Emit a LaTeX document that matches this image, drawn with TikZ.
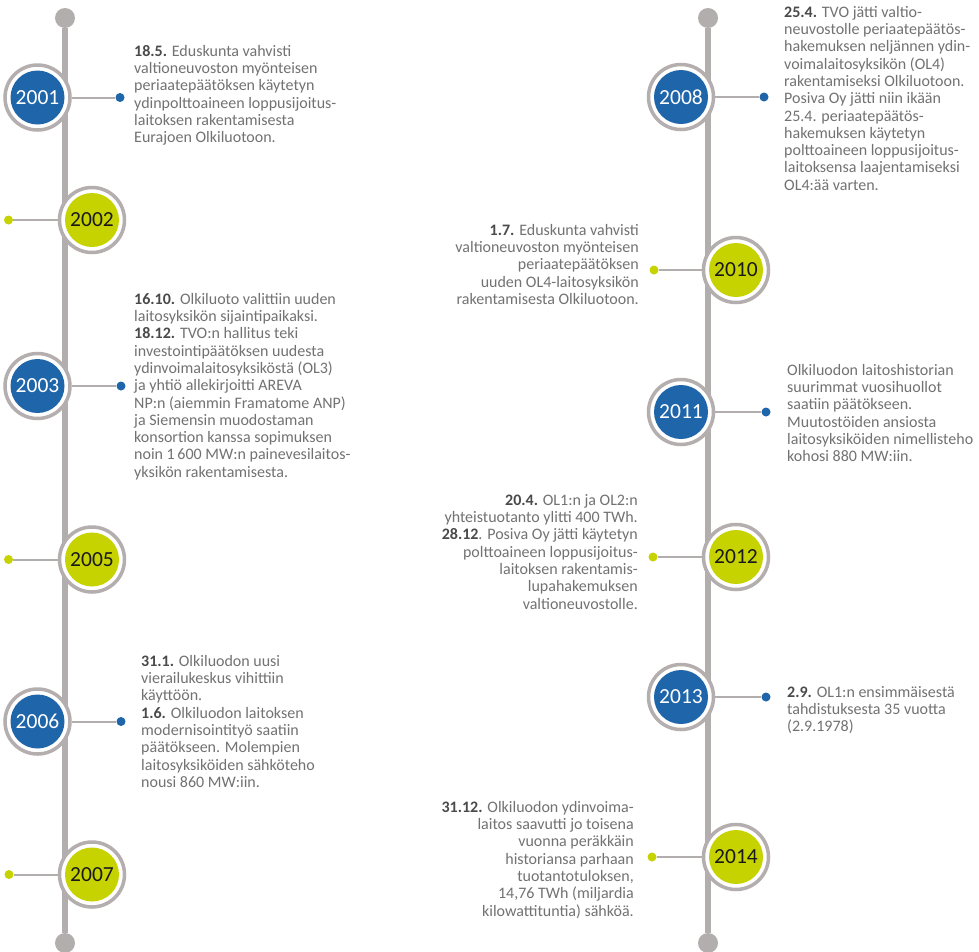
\documentclass[tikz,border=0pt]{standalone}
\usepackage{fontspec}
\setmainfont{Carlito}
\definecolor{tlblue}{HTML}{1F65AA}
\definecolor{tlgreen}{HTML}{C7D300}
\definecolor{ringgray}{HTML}{B4AEAE}
\definecolor{spinegray}{HTML}{B3AEAE}
\definecolor{txtgray}{HTML}{727272}
\definecolor{dategray}{HTML}{4A4A4A}
\newcommand{\dte}[1]{\textcolor{dategray}{\textbf{#1}}}
\newcommand{\fst}{\rule{0pt}{12pt}}
\begin{document}
\begin{tikzpicture}[x=1pt,y=-1pt,
  yr/.style={circle, minimum size=65pt, inner sep=0pt, fill=white, draw=ringgray, line width=3.5pt, font=\fontsize{21.5}{21.5}\selectfont},
  byr/.style={yr, text=white, path picture={\fill[tlblue] (path picture bounding box.center) circle (27pt);}},
  gyr/.style={yr, text=black!90, path picture={\fill[tlgreen] (path picture bounding box.center) circle (27pt);}},
  endc/.style={circle, fill=spinegray, minimum size=20pt, inner sep=0pt},
  spine/.style={draw=spinegray, line width=6pt},
  conn/.style={draw=spinegray, line width=2pt},
  bdot/.style={circle, fill=tlblue, minimum size=9pt, inner sep=0pt},
  gdot/.style={circle, fill=tlgreen, minimum size=9pt, inner sep=0pt},
  txt/.style={inner sep=0pt, text=txtgray, font=\fontsize{16}{17.3}\selectfont},
  ltxt/.style={txt, anchor=north west, align=left},
  rtxt/.style={txt, anchor=north east, align=right}]
\useasboundingbox (0,0) rectangle (979,951);
\fill[white] (0,0) rectangle (979,951);
% spines
\node[endc] (tL) at (65,18) {};
\node[endc] (bL) at (65,943) {};
\node[endc] (tR) at (708,18) {};
\node[endc] (bR) at (708,943) {};
\draw[spine] (tL) -- (bL);
\draw[spine] (tR) -- (bR);
% left column
\node[byr] (y2001) at (37.5,97.5) {2001};
\node[gyr] (y2002) at (92,220) {2002};
\node[byr] (y2003) at (37.5,386) {2003};
\node[gyr] (y2005) at (92,559.5) {2005};
\node[byr] (y2006) at (37.5,721.5) {2006};
\node[gyr] (y2007) at (92,874.5) {2007};
% right column
\node[byr] (y2008) at (681,97) {2008};
\node[gyr] (y2010) at (736,270) {2010};
\node[byr] (y2011) at (681,412) {2011};
\node[gyr] (y2012) at (736,557) {2012};
\node[byr] (y2013) at (681,697) {2013};
\node[gyr] (y2014) at (736,857) {2014};
% dots
\node[bdot] (d2001) at (120,97.5) {};
\node[gdot] (d2002) at (8.5,220) {};
\node[bdot] (d2003) at (121,386) {};
\node[gdot] (d2005) at (8.5,559.5) {};
\node[bdot] (d2006) at (121,721.5) {};
\node[gdot] (d2007) at (9,874.5) {};
\node[bdot] (d2008) at (764,97) {};
\node[gdot] (d2010) at (654,270) {};
\node[bdot] (d2011) at (766,412) {};
\node[gdot] (d2012) at (653,557) {};
\node[bdot] (d2013) at (766,697) {};
\node[gdot] (d2014) at (652,857) {};
% connectors
\foreach \y in {2001,2002,2003,2005,2006,2007,2008,2010,2011,2012,2013,2014}
  \draw[conn] (y\y) -- (d\y);
% texts
\node[ltxt] (t2001) at (134,44) {\fst\dte{18.5.} Eduskunta vahvisti\\
valtioneuvoston myönteisen\\
periaatepäätöksen käytetyn\\
ydinpolttoaineen loppusijoitus-\\
laitoksen rakentamisesta\\
Eurajoen Olkiluotoon.};
\node[ltxt] (t2003) at (134,292) {\fst\dte{16.10.} Olkiluoto valittiin uuden\\
laitosyksikön sijaintipaikaksi.\\
\dte{18.12.} TVO:n hallitus teki\\
investointipäätöksen uudesta\\
ydinvoimalaitosyksiköstä (OL3)\\
ja yhtiö allekirjoitti AREVA\\
NP:n (aiemmin Framatome ANP)\\
ja Siemensin muodostaman\\
konsortion kanssa sopimuksen\\
noin 1\,600 MW:n painevesilaitos-\\
yksikön rakentamisesta.};
\node[ltxt] (t2006) at (141,654) {\fst\dte{31.1.} Olkiluodon uusi\\
vierailukeskus vihittiin\\
käyttöön.\\
\dte{1.6.} Olkiluodon laitoksen\\
modernisointityö saatiin\\
päätökseen. Molempien\\
laitosyksiköiden sähköteho\\
nousi 860 MW:iin.};
\node[ltxt] (t2008) at (784,5) {\fst\dte{25.4.} TVO jätti valtio-\\
neuvostolle periaatepäätös-\\
hakemuksen neljännen ydin-\\
voimalaitosyksikön (OL4)\\
rakentamiseksi Olkiluotoon.\\
Posiva Oy jätti niin ikään\\
25.4. periaatepäätös-\\
hakemuksen käytetyn\\
polttoaineen loppusijoitus-\\
laitoksensa laajentamiseksi\\
OL4:ää varten.};
\node[rtxt] (t2010) at (639,223) {\fst\dte{1.7.} Eduskunta vahvisti\\
valtioneuvoston myönteisen\\
periaatepäätöksen\\
uuden OL4-laitosyksikön\\
rakentamisesta Olkiluotoon.};
\node[ltxt] (t2011) at (787,363) {\fst Olkiluodon laitoshistorian\\
suurimmat vuosihuollot\\
saatiin päätökseen.\\
Muutostöiden ansiosta\\
laitosyksiköiden nimellisteho\\
kohosi 880 MW:iin.};
\node[rtxt] (t2012) at (638,493) {\fst\dte{20.4.} OL1:n ja OL2:n\\
yhteistuotanto ylitti 400 TWh.\\
\dte{28.12}. Posiva Oy jätti käytetyn\\
polttoaineen loppusijoitus-\\
laitoksen rakentamis-\\
lupahakemuksen\\
valtioneuvostolle.};
\node[ltxt] (t2013) at (787,685) {\fst\dte{2.9.} OL1:n ensimmäisestä\\
tahdistuksesta 35 vuotta\\
(2.9.1978)};
\node[rtxt] (t2014) at (634,800) {\fst\dte{31.12.} Olkiluodon ydinvoima-\\
laitos saavutti jo toisena\\
vuonna peräkkäin\\
historiansa parhaan\\
tuotantotuloksen,\\
14,76 TWh (miljardia\\
kilowattituntia) sähköä.};
\end{tikzpicture}
\end{document}
